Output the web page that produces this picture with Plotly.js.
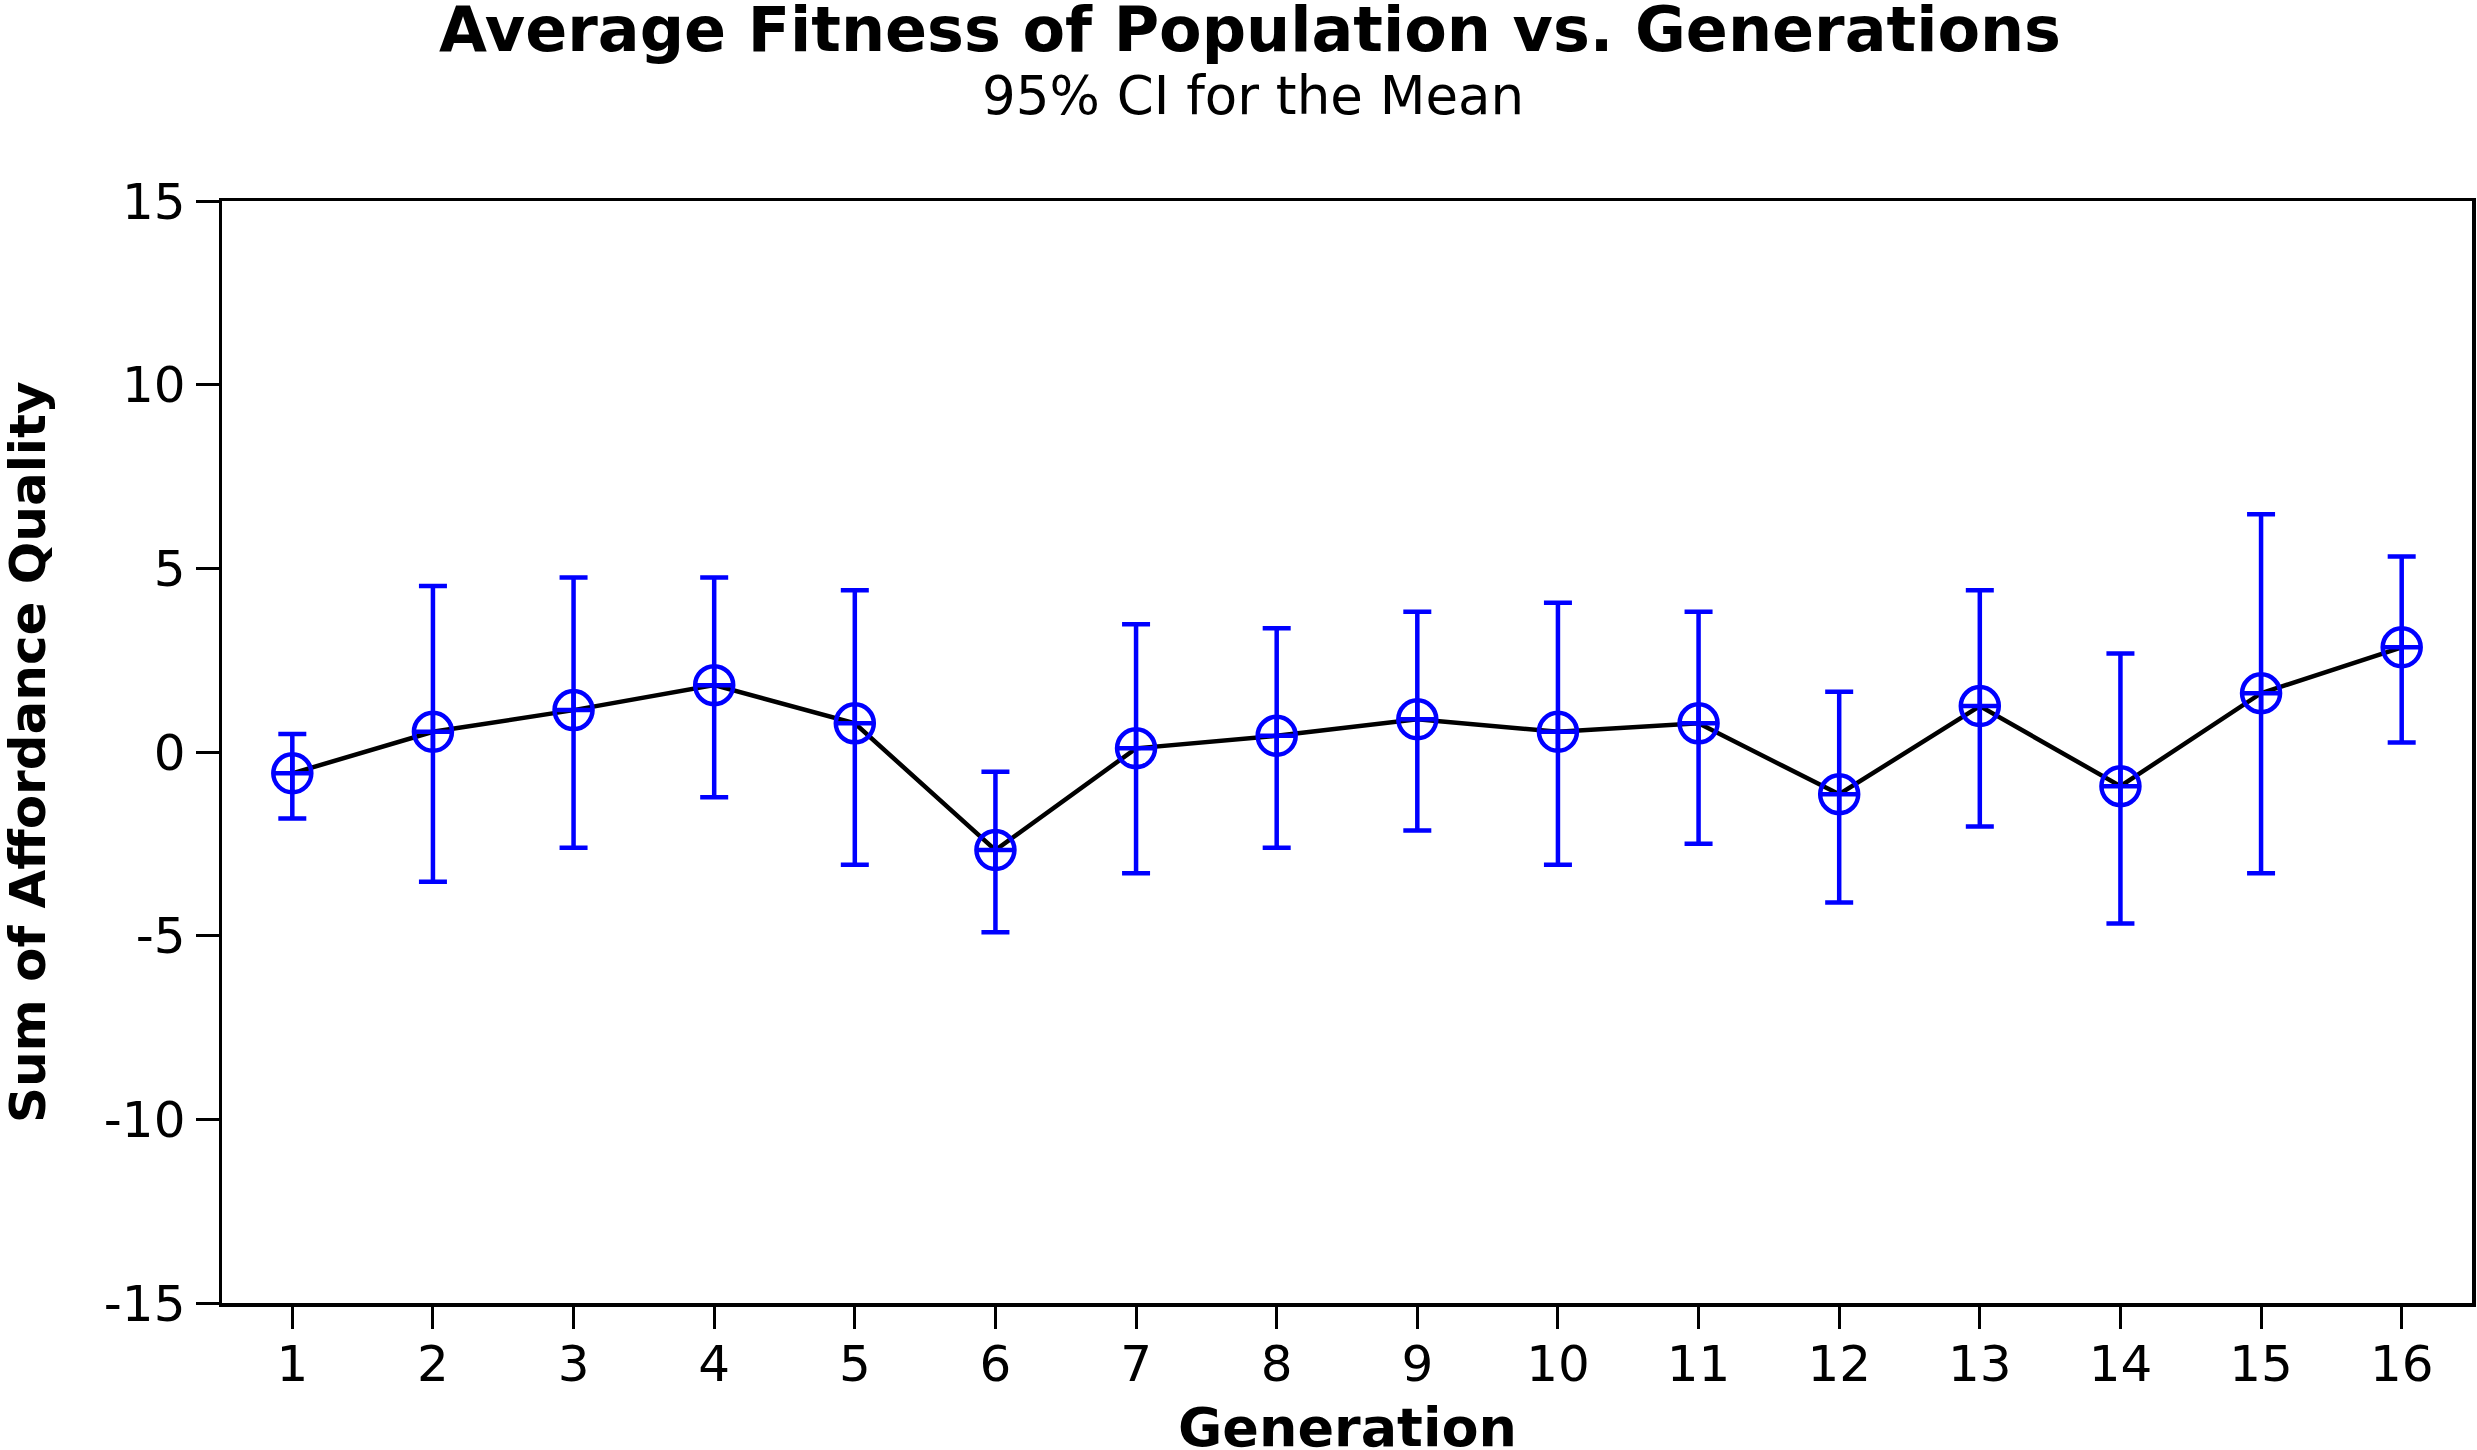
<!DOCTYPE html>
<html>
<head>
<meta charset="utf-8">
<script src="https://cdn.plot.ly/plotly-3.0.1.min.js"></script>
<style>
  html, body { margin: 0; padding: 0; background: #ffffff; }
  #chart { width: 2477px; height: 1450px; }
</style>
</head>
<body>
<div id="chart"></div>
<script>
// Generations (x categories)
const generations = [1, 2, 3, 4, 5, 6, 7, 8, 9, 10, 11, 12, 13, 14, 15, 16];
// Mean of sum of affordance quality
const meanValues = [-0.58, 0.55, 1.14, 1.82, 0.78, -2.67, 0.10, 0.44, 0.89, 0.55, 0.78, -1.15, 1.25, -0.93, 1.60, 2.85];
// Upper bound of 95% CI
const upperCI = [0.49, 4.52, 4.75, 4.75, 4.40, -0.54, 3.48, 3.37, 3.82, 4.06, 3.82, 1.64, 4.40, 2.68, 6.47, 5.32];
// Lower bound of 95% CI
const lowerCI = [-1.81, -3.53, -2.61, -1.23, -3.07, -4.91, -3.30, -2.61, -2.14, -3.07, -2.50, -4.10, -2.03, -4.67, -3.30, 0.26];
// Axis tick values
const yTicks = [-15, -10, -5, 0, 5, 10, 15];
// Texts
const titleText = 'Average Fitness of Population vs. Generations';
const subtitleText = '95% CI for the Mean';
const xTitleText = 'Generation';
const yTitleText = 'Sum of Affordance Quality';

const errPlus = upperCI.map((u, i) => u - meanValues[i]);
const errMinus = lowerCI.map((l, i) => meanValues[i] - l);

const FONT = 'Verdana, "DejaVu Sans", sans-serif';

const lineTrace = {
  x: generations,
  y: meanValues,
  type: 'scatter',
  mode: 'lines',
  line: { color: '#000000', width: 4.5 },
  hoverinfo: 'skip',
  showlegend: false
};

const pointTrace = {
  x: generations,
  y: meanValues,
  type: 'scatter',
  mode: 'markers',
  marker: {
    symbol: 'circle-cross-open',
    size: 38,
    color: '#0000FF',
    line: { color: '#0000FF', width: 4.5 }
  },
  error_y: {
    type: 'data',
    symmetric: false,
    array: errPlus,
    arrayminus: errMinus,
    color: '#0000FF',
    thickness: 4.5,
    width: 14
  },
  showlegend: false
};

const layout = {
  width: 2477,
  height: 1450,
  paper_bgcolor: '#ffffff',
  plot_bgcolor: '#ffffff',
  margin: { l: 222, r: 5, t: 201, b: 147 },
  font: { family: FONT, color: '#000000', size: 48 },
  xaxis: {
    range: [0.5, 16.5],
    tickvals: generations,
    ticktext: generations.map(String),
    ticks: 'outside',
    ticklen: 22,
    tickwidth: 3,
    tickcolor: '#000000',
    showline: true,
    linecolor: '#000000',
    linewidth: 3.5,
    mirror: true,
    showgrid: false,
    zeroline: false,
    ticklabelstandoff: -8,
    tickfont: { family: FONT, size: 50, color: '#000000' }
  },
  yaxis: {
    range: [-15, 15],
    tickvals: yTicks,
    ticktext: yTicks.map(String),
    ticks: 'outside',
    ticklen: 23,
    tickwidth: 3,
    tickcolor: '#000000',
    showline: true,
    linecolor: '#000000',
    linewidth: 3.5,
    mirror: true,
    showgrid: false,
    zeroline: false,
    tickfont: { family: FONT, size: 50, color: '#000000' }
  },
  annotations: [
    {
      text: '<b>' + titleText + '</b>',
      xref: 'paper', yref: 'paper',
      x: 0.457, y: 1.1552,
      xanchor: 'center', yanchor: 'middle',
      showarrow: false,
      font: { family: FONT, size: 62, color: '#000000' }
    },
    {
      text: subtitleText,
      xref: 'paper', yref: 'paper',
      x: 0.458, y: 1.0953,
      xanchor: 'center', yanchor: 'middle',
      showarrow: false,
      font: { family: FONT, size: 53, color: '#000000' }
    },
    {
      text: '<b>' + xTitleText + '</b>',
      xref: 'paper', yref: 'paper',
      x: 0.5, y: -0.1134,
      xanchor: 'center', yanchor: 'middle',
      showarrow: false,
      font: { family: FONT, size: 54, color: '#000000' }
    },
    {
      text: '<b>' + yTitleText + '</b>',
      xref: 'paper', yref: 'paper',
      x: -0.0862, y: 0.5,
      xanchor: 'center', yanchor: 'middle',
      textangle: -90,
      showarrow: false,
      font: { family: FONT, size: 50, color: '#000000' }
    }
  ]
};

Plotly.newPlot('chart', [lineTrace, pointTrace], layout, { staticPlot: true, displayModeBar: false });
</script>
</body>
</html>
